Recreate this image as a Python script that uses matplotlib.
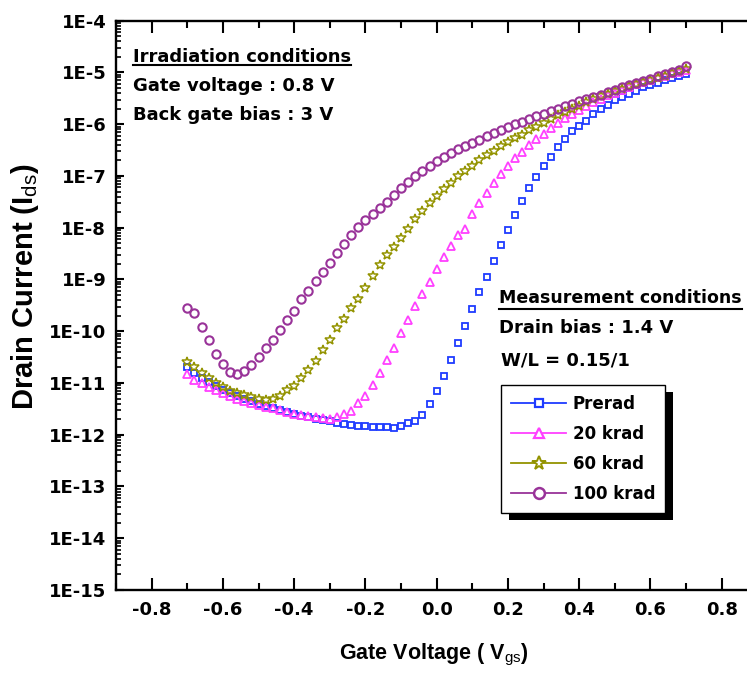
import matplotlib
matplotlib.use("Agg")
import matplotlib.pyplot as plt
import numpy as np
from matplotlib.lines import Line2D
from matplotlib.patches import Rectangle
from matplotlib.ticker import LogLocator, FixedLocator, FuncFormatter, NullFormatter
from matplotlib import font_manager

# ---------------- data ----------------
gate_voltage = [-0.70, -0.68, -0.66, -0.64, -0.62, -0.60, -0.58, -0.56, -0.54, -0.52,
                -0.50, -0.48, -0.46, -0.44, -0.42, -0.40, -0.38, -0.36, -0.34, -0.32,
                -0.30, -0.28, -0.26, -0.24, -0.22, -0.20, -0.18, -0.16, -0.14, -0.12,
                -0.10, -0.08, -0.06, -0.04, -0.02, 0.00, 0.02, 0.04, 0.06, 0.08,
                0.10, 0.12, 0.14, 0.16, 0.18, 0.20, 0.22, 0.24, 0.26, 0.28,
                0.30, 0.32, 0.34, 0.36, 0.38, 0.40, 0.42, 0.44, 0.46, 0.48,
                0.50, 0.52, 0.54, 0.56, 0.58, 0.60, 0.62, 0.64, 0.66, 0.68, 0.70]

# log10 of drain current (A)
prerad_log = [-10.70, -10.80, -10.90, -10.98, -11.06, -11.13, -11.19, -11.25, -11.30, -11.35,
              -11.40, -11.44, -11.48, -11.52, -11.56, -11.60, -11.63, -11.66, -11.69, -11.72,
              -11.74, -11.77, -11.79, -11.81, -11.83, -11.84, -11.85, -11.86, -11.86, -11.87,
              -11.84, -11.78, -11.74, -11.61, -11.41, -11.15, -10.86, -10.56, -10.22, -9.89,
              -9.58, -9.25, -8.96, -8.64, -8.33, -8.04, -7.75, -7.49, -7.23, -7.02,
              -6.81, -6.63, -6.45, -6.29, -6.14, -6.03, -5.94, -5.81, -5.71, -5.62,
              -5.54, -5.47, -5.41, -5.35, -5.29, -5.24, -5.20, -5.15, -5.11, -5.07, -5.03]

krad20_log = [-10.83, -10.94, -11.00, -11.07, -11.14, -11.19, -11.25, -11.30, -11.34, -11.38,
              -11.43, -11.46, -11.49, -11.52, -11.56, -11.59, -11.61, -11.63, -11.65, -11.67,
              -11.69, -11.65, -11.60, -11.54, -11.39, -11.26, -11.04, -10.80, -10.56, -10.32,
              -10.04, -9.78, -9.51, -9.28, -9.04, -8.80, -8.57, -8.35, -8.14, -8.02,
              -7.74, -7.52, -7.33, -7.14, -6.97, -6.81, -6.66, -6.53, -6.40, -6.29,
              -6.18, -6.07, -5.97, -5.88, -5.80, -5.72, -5.64, -5.57, -5.51, -5.44,
              -5.39, -5.33, -5.28, -5.23, -5.18, -5.14, -5.09, -5.06, -5.02, -4.99, -4.96]

krad60_log = [-10.59, -10.70, -10.80, -10.91, -11.00, -11.08, -11.15, -11.20, -11.24, -11.28,
              -11.31, -11.33, -11.31, -11.25, -11.14, -11.06, -10.91, -10.75, -10.58, -10.36,
              -10.17, -9.94, -9.76, -9.56, -9.38, -9.16, -8.93, -8.72, -8.53, -8.38,
              -8.20, -8.03, -7.84, -7.67, -7.52, -7.39, -7.25, -7.13, -7.01, -6.90,
              -6.80, -6.70, -6.60, -6.51, -6.42, -6.35, -6.27, -6.20, -6.12, -6.05,
              -5.98, -5.90, -5.83, -5.76, -5.70, -5.64, -5.58, -5.52, -5.46, -5.41,
              -5.36, -5.32, -5.27, -5.23, -5.18, -5.14, -5.10, -5.06, -5.02, -4.98, -4.94]

krad100_log = [-9.56, -9.65, -9.91, -10.17, -10.44, -10.64, -10.78, -10.83, -10.76, -10.65,
               -10.49, -10.33, -10.16, -9.98, -9.78, -9.60, -9.38, -9.22, -9.02, -8.85,
               -8.68, -8.49, -8.31, -8.14, -7.99, -7.86, -7.74, -7.62, -7.51, -7.37,
               -7.24, -7.11, -7.00, -6.90, -6.81, -6.72, -6.63, -6.55, -6.48, -6.42,
               -6.36, -6.30, -6.23, -6.17, -6.11, -6.06, -6.00, -5.95, -5.90, -5.85,
               -5.80, -5.75, -5.70, -5.65, -5.61, -5.56, -5.52, -5.48, -5.43, -5.38,
               -5.33, -5.28, -5.24, -5.20, -5.16, -5.12, -5.07, -5.03, -4.99, -4.95, -4.88]

series_labels = ["Prerad", "20 krad", "60 krad", "100 krad"]
x_tick_values = [-0.8, -0.6, -0.4, -0.2, 0.0, 0.2, 0.4, 0.6, 0.8]
x_minor_values = [-0.9, -0.7, -0.5, -0.3, -0.1, 0.1, 0.3, 0.5, 0.7, 0.9]

# ---------------- styling ----------------
plt.rcParams['font.family'] = ['DejaVu Sans']
plt.rcParams['axes.unicode_minus'] = False
plt.rcParams['mathtext.fontset'] = 'custom'
plt.rcParams['mathtext.rm'] = 'Liberation Sans'
plt.rcParams['mathtext.it'] = 'Liberation Sans:italic'
plt.rcParams['mathtext.bf'] = 'Liberation Sans:bold'

available = {f.name for f in font_manager.fontManager.ttflist}
if 'Liberation Sans Narrow' in available:
    label_family, xlabel_size, ylabel_size = 'Liberation Sans Narrow', 19, 24
else:
    label_family, xlabel_size, ylabel_size = 'Liberation Sans', 15.5, 21

W, H = 747, 677
fig = plt.figure(figsize=(W / 100, H / 100), dpi=100)


def fx(px):
    return px / W


def fy(py):
    return 1 - py / H


ax_l, ax_r, ax_t, ax_b = 116, 757.4, 20.7, 590
ax = fig.add_axes([fx(ax_l), fy(ax_b), (ax_r - ax_l) / W, (ax_b - ax_t) / H])

styles = [
    (prerad_log, 's', '#1f3cff', 4.6, 1.3),
    (krad20_log, '^', '#ff40ff', 6.0, 1.3),
    (krad60_log, '*', '#939300', 7.6, 1.1),
    (krad100_log, 'o', '#993399', 6.0, 1.5),
]

handles = []
for (vals, mk, col, ms, mew), lab in zip(styles, series_labels):
    current = np.power(10.0, np.array(vals))
    ax.plot(gate_voltage, current, linestyle='none', marker=mk, ms=ms,
            mfc='none', mec=col, mew=mew, zorder=3)
    handles.append(Line2D([], [], color=col, lw=1.3, marker=mk, ms=ms * 1.3,
                          mfc='white', mec=col, mew=mew + 0.3))

ax.set_yscale('log')
ax.set_ylim(1e-15, 1e-4)
ax.set_xlim(-0.9, 0.9)

ax.yaxis.set_major_locator(LogLocator(base=10, numticks=30))
ax.yaxis.set_minor_locator(LogLocator(base=10, subs=np.arange(2, 10), numticks=30))
ax.yaxis.set_major_formatter(FuncFormatter(lambda v, p: "1E%d" % int(round(np.log10(v)))))
ax.yaxis.set_minor_formatter(NullFormatter())

ax.xaxis.set_major_locator(FixedLocator(x_tick_values))
ax.xaxis.set_minor_locator(FixedLocator(x_minor_values))
ax.xaxis.set_major_formatter(FuncFormatter(lambda v, p: "%.1f" % (0.0 if abs(v) < 1e-9 else v)))

for s in ax.spines.values():
    s.set_linewidth(1.7)

ax.tick_params(axis='x', which='major', direction='in', top=True, length=8.5, width=1.5,
               labelsize=13, pad=8)
ax.tick_params(axis='x', which='minor', direction='in', top=True, length=5, width=1.5)
ax.tick_params(axis='y', which='major', direction='in', right=False, length=6, width=1.5,
               labelsize=13, pad=7)
ax.tick_params(axis='y', which='minor', direction='in', right=False, length=3.5, width=1.2)
for lbl in ax.get_xticklabels() + ax.get_yticklabels():
    lbl.set_fontweight('bold')

ax.set_xlabel(r'Gate Voltage ( V$_{\mathrm{gs}}$)', family=label_family, weight='bold',
              fontsize=xlabel_size, va='center', ha='center')
ax.xaxis.set_label_coords((434 - ax_l) / (ax_r - ax_l), (ax_b - 655) / (ax_b - ax_t))
ax.set_ylabel(r'Drain Current (I$_{\mathrm{ds}}$)', family=label_family, weight='bold',
              fontsize=ylabel_size, va='center', ha='center')
ax.yaxis.set_label_coords((25 - ax_l) / (ax_r - ax_l), (ax_b - 287) / (ax_b - ax_t))

# annotations
t1 = fig.text(fx(133), fy(62), 'Irradiation conditions', fontsize=13, weight='bold',
              va='baseline', ha='left')
fig.text(fx(133), fy(91), 'Gate voltage : 0.8 V', fontsize=13, weight='bold',
         va='baseline', ha='left')
fig.text(fx(133), fy(119.5), 'Back gate bias : 3 V', fontsize=13, weight='bold',
         va='baseline', ha='left')
t2 = fig.text(fx(499), fy(303.5), 'Measurement conditions', fontsize=12.5, weight='bold',
              va='baseline', ha='left')
fig.text(fx(499), fy(333.5), 'Drain bias : 1.4 V', fontsize=13, weight='bold',
         va='baseline', ha='left')
fig.text(fx(501), fy(366), 'W/L = 0.15/1', fontsize=13, weight='bold',
         va='baseline', ha='left')

leg = ax.legend(handles, series_labels, loc='upper left',
                bbox_to_anchor=(fx(501), fy(385)), bbox_transform=fig.transFigure,
                borderaxespad=0, frameon=True, fancybox=False, edgecolor='black',
                framealpha=1, prop={'weight': 'bold', 'size': 12},
                handlelength=3.3, handletextpad=0.4, labelspacing=0.72, borderpad=0.6)
leg.get_frame().set_linewidth(1.0)
leg.set_zorder(6)

fig.canvas.draw()
renderer = fig.canvas.get_renderer()

# underlines
for t, uy in ((t1, 64.5), (t2, 309)):
    bb = t.get_window_extent(renderer)
    fig.add_artist(Line2D([bb.x0 / W, bb.x1 / W], [fy(uy), fy(uy)],
                          transform=fig.transFigure, color='black', lw=1.5))

# legend drop shadow
lb = leg.get_window_extent(renderer)
shadow = Rectangle(((lb.x0 + 8) / W, (lb.y0 - 7) / H), lb.width / W, lb.height / H,
                   transform=fig.transFigure, facecolor='black', edgecolor='none',
                   zorder=5, clip_on=False)
ax.add_artist(shadow)

fig.savefig('out.png', dpi=100)
